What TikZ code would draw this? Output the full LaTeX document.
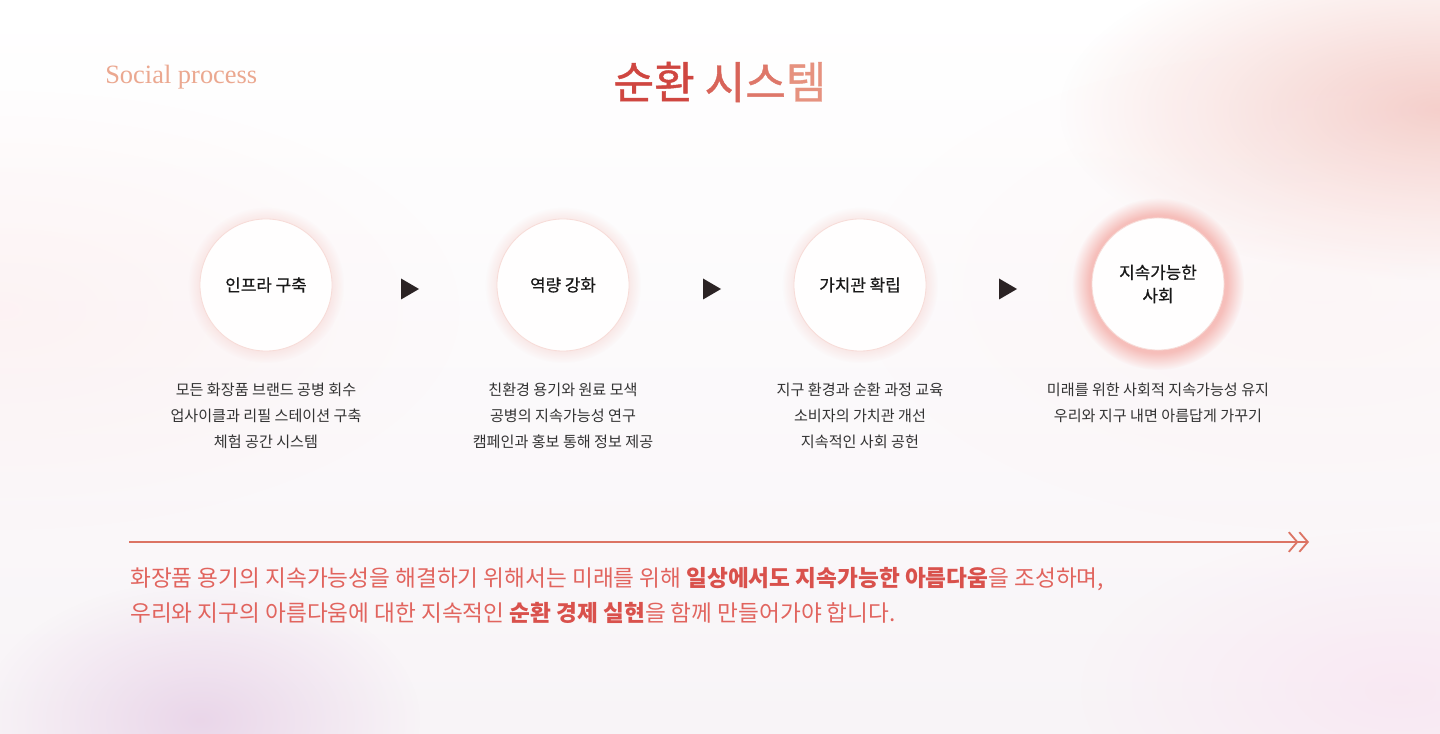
\documentclass[tikz,border=0pt]{standalone}
\usepackage{fontspec}
\usepackage{xcolor}
\usepackage{tikz}
\usetikzlibrary{arrows.meta,fadings}
\newfontfamily\kr{Noto Sans CJK KR}
\newfontfamily\krmid[FakeBold=0.6]{Noto Sans CJK KR}
\newfontfamily\krtitle[FakeBold=1]{Noto Sans CJK KR}
\newfontfamily\serifen{Liberation Serif}

\definecolor{titlered}{HTML}{CF4640}
\definecolor{titlelight}{HTML}{E6927F}
\definecolor{socialtxt}{HTML}{EBA890}
\definecolor{glowpink}{HTML}{F4C9C4}
\definecolor{ringpink}{HTML}{F7DCD8}
\definecolor{tridark}{HTML}{2B2324}
\definecolor{desctxt}{HTML}{333333}
\definecolor{bottomtxt}{HTML}{E1645E}
\definecolor{bottombold}{HTML}{D9514C}
\definecolor{arrowsalmon}{HTML}{DC7464}
\definecolor{bglow}{HTML}{F8F4F7}

\tikzfading[name=soft blob, inner color=transparent!0, outer color=transparent!100]

\tikzset{
    stepnode/.style={circle, fill=white!98!pink, draw=ringpink, line width=0.6pt,
        minimum size=3.3cm, inner sep=0pt, align=center, text=black!90,
        font=\krmid\fontsize{12}{16.5}\selectfont},
    desc/.style={align=center, text=desctxt, inner sep=0pt,
        font=\kr\fontsize{10.75}{18.5}\selectfont},
    trimark/.style={fill=tridark},
    blob/.style={path fading=soft blob},
    halo/.style={path fading=circle with fuzzy edge 20 percent}
}

\begin{document}
\begin{tikzpicture}[x=0.025cm, y=-0.025cm]
    \useasboundingbox (0,0) rectangle (1440,734);

    % Fondo
    \shade[top color=white, bottom color=bglow] (0,0) rectangle (1440,734);
    \fill[pink!40, opacity=0.35, blob] (0,310) ellipse (460 and 220);
    \fill[glowpink, opacity=0.9, blob] (1440,110) ellipse (380 and 170);
    \fill[pink!30, opacity=0.3, blob] (1320,290) ellipse (460 and 240);
    \fill[violet!30, opacity=0.45, blob] (200,720) ellipse (220 and 140);
    \fill[magenta!20, opacity=0.3, blob] (1400,690) ellipse (320 and 160);

    % Titulos
    \node[anchor=base west, inner sep=0pt, text=socialtxt,
        font=\serifen\fontsize{18.8}{20}\selectfont] (social) at (105,84) {Social process};
    \node[inner sep=0pt, font=\krtitle\fontsize{31.4}{34}\selectfont] (title) at (720,82)
        {\textcolor{titlered}{순환} \textcolor{titlered!60!titlelight}{시}\textcolor{titlered!35!titlelight}{스}\textcolor{titlelight}{템}};

    % Resplandor de los circulos
    \fill[glowpink, opacity=0.45, halo] (266,285) circle (78);
    \fill[glowpink, opacity=0.45, halo] (563,285) circle (78);
    \fill[glowpink, opacity=0.45, halo] (860,285) circle (78);
    \fill[glowpink!90!red, opacity=0.85, halo] (1158,284) circle (86);

    % Etapas
    \node[stepnode] (infra) at (266,285) {인프라 구축};
    \node[stepnode] (capa) at (563,285) {역량 강화};
    \node[stepnode] (valor) at (860,285) {가치관 확립};
    \node[stepnode] (society) at (1158,284) {지속가능한\\사회};

    % Flechas entre etapas
    \coordinate (t1) at (410,289);
    \coordinate (t2) at (712,289);
    \coordinate (t3) at (1008,289);
    \fill[trimark] (t1) ++(-9,-10.5) -- ++(18,10.5) -- ++(-18,10.5) -- cycle;
    \fill[trimark] (t2) ++(-9,-10.5) -- ++(18,10.5) -- ++(-18,10.5) -- cycle;
    \fill[trimark] (t3) ++(-9,-10.5) -- ++(18,10.5) -- ++(-18,10.5) -- cycle;

    % Descripciones
    \node[desc] (d1) at (266,416) {모든 화장품 브랜드 공병 회수\\업사이클과 리필 스테이션 구축\\체험 공간 시스템};
    \node[desc] (d2) at (563,416) {친환경 용기와 원료 모색\\공병의 지속가능성 연구\\캠페인과 홍보 통해 정보 제공};
    \node[desc] (d3) at (860,416) {지구 환경과 순환 과정 교육\\소비자의 가치관 개선\\지속적인 사회 공헌};
    \node[desc] (d4) at (1158,403) {미래를 위한 사회적 지속가능성 유지\\우리와 지구 내면 아름답게 가꾸기};

    % Flecha larga
    \coordinate (lineL) at (129,542);
    \coordinate (lineR) at (1309,542);
    \draw[arrowsalmon, line width=1pt,
        -{Straight Barb[length=6pt, width=14pt, line width=1.3pt] Straight Barb[length=6pt, width=14pt, line width=1.3pt]}]
        (lineL) -- (lineR);

    % Texto final
    \node[anchor=base west, inner sep=0pt, align=left, text=bottomtxt,
        font=\kr\fontsize{16.1}{24.2}\selectfont] (summary) at (130,621)
        {화장품 용기의 지속가능성을 해결하기 위해서는 미래를 위해 \textcolor{bottombold}{\bfseries 일상에서도 지속가능한 아름다움}을 조성하며,\\
         우리와 지구의 아름다움에 대한 지속적인 \textcolor{bottombold}{\bfseries 순환 경제 실현}을 함께 만들어가야 합니다.};
\end{tikzpicture}
\end{document}
